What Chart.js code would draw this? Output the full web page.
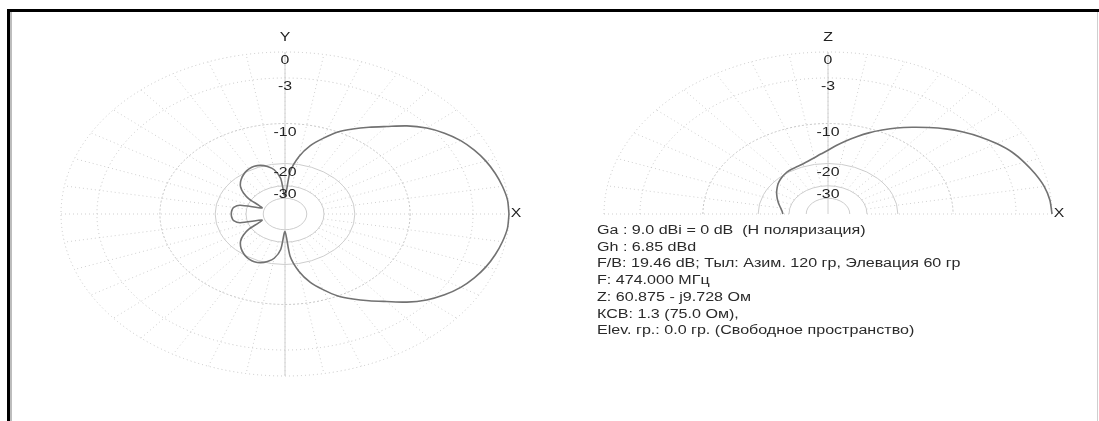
<!DOCTYPE html>
<html>
<head>
<meta charset="utf-8">
<title>Диаграмма направленности</title>
<script src="https://cdn.jsdelivr.net/npm/chart.js@4.4.1/dist/chart.umd.min.js"></script>
<style>
  body { margin: 0; background: #fff; }
  #page { position: relative; width: 1099px; height: 421px; overflow: hidden; background: #fff; }
  .edge { position: absolute; }
  #edgeTop { left: 7px; top: 9px; width: 1092px; height: 3px; background: #000; }
  #edgeLeft { left: 7px; top: 9px; width: 3px; height: 412px; background: #000; }
  #edgeLeft2 { left: 10px; top: 12px; width: 2px; height: 409px; background: #bdbdbd; }
  #edgeRight { left: 1097px; top: 12px; width: 1px; height: 409px; background: #cfcfcf; }
  canvas { position: absolute; }
  #azChart { left: 14px; top: 14px; }
  #elChart { left: 565px; top: 14px; }
  #info {
    position: absolute; left: 597px; top: 222px;
    font: 12px "Liberation Sans", Arial, sans-serif; line-height: 16.7px; color: #2a2a2a;
    transform: scaleX(1.34); transform-origin: 0 0; white-space: pre;
  }
</style>
</head>
<body>
<div id="page">
  <div class="edge" id="edgeTop"></div>
  <div class="edge" id="edgeLeft"></div>
  <div class="edge" id="edgeLeft2"></div>
  <div class="edge" id="edgeRight"></div>
  <canvas id="azChart" width="540" height="392"></canvas>
  <canvas id="elChart" width="525" height="392"></canvas>
  <div id="info"></div>
</div>
<script>
// angles in degrees, 0 = along X
var angles = [0, 5, 10, 15, 20, 25, 30, 35, 40, 45, 50, 55, 60, 65, 70, 75, 80, 85, 90,
              95, 100, 105, 110, 115, 120, 125, 130, 135, 140, 145, 150, 155, 160, 165, 170, 175, 180];

// horizontal plane (X-Y), dB relative to max; symmetric about X
var azimuthDb = [0, -0.05, -0.25, -0.5, -0.8, -1.2, -1.7, -2.4, -3.3, -4.5, -6.0, -7.3, -8.6, -10.0, -12.0, -14.2, -17.5, -23, -38,
                 -26, -22, -20.5, -19.6, -19.3, -19.5, -20, -20.8, -21.8, -23.2, -25.5, -29, -35, -38, -27, -25, -24.6, -24.5];

// vertical plane (X-Z), upper half only
var elevationDb = [0, -0.1, -0.35, -0.75, -1.2, -1.7, -2.4, -3.2, -4.1, -5.1, -6.2, -7.3, -8.4, -9.6, -10.8, -12.1, -13.4, -14.7, -16,
                   -17, -17.9, -18.6, -19.1, -19.4, -19.5, -19.7, -20.1, -20.6, -21.2, -22, -22.8, -23.7, -24.6, -25.5, -26.4, -27.1, -27.5];

var ringDb = [0, -3, -10, -20, -30, -40];
var ringLabels = ['0', '-3', '-10', '-20', '-30'];

var infoLines = [
  'Ga : 9.0 dBi = 0 dB  (H поляризация)',
  'Gh : 6.85 dBd',
  'F/B: 19.46 dB; Тыл: Азим. 120 гр, Элевация 60 гр',
  'F: 474.000 МГц',
  'Z: 60.875 - j9.728 Ом',
  'КСВ: 1.3 (75.0 Ом),',
  'Elev. гр.: 0.0 гр. (Свободное пространство)'
];

// pixels per unit radius, horizontally and vertically
var SX = 224, SY = 162;
var TEXT_STRETCH = 1.32;

// ARRL log-periodic radius
function arrlRadius(db) {
  return Math.pow(0.89, -db / 2);
}

function toPoint(deg, db) {
  var r = arrlRadius(db), t = deg * Math.PI / 180;
  return { x: r * Math.cos(t), y: r * Math.sin(t) };
}

function stretchedText(ctx, text, x, y) {
  ctx.save();
  ctx.translate(x, y);
  ctx.scale(TEXT_STRETCH, 1);
  ctx.fillText(text, 0, 0);
  ctx.restore();
}

var polarGrid = {
  id: 'polarGrid',
  beforeDatasetsDraw: function(chart, args, opts) {
    var ctx = chart.ctx, sx = chart.scales.x, sy = chart.scales.y;
    var cx = sx.getPixelForValue(0), cy = sy.getPixelForValue(0);
    var maxA = opts.half ? 180 : 350;
    ctx.save();
    ctx.lineWidth = 1;

    // spokes every 10 degrees
    ctx.strokeStyle = '#cfcfcf';
    ctx.setLineDash([1, 3]);
    var r0 = arrlRadius(-30);
    for (var a = 0; a <= maxA; a += 10) {
      var t = a * Math.PI / 180;
      ctx.beginPath();
      ctx.moveTo(sx.getPixelForValue(r0 * Math.cos(t)), sy.getPixelForValue(r0 * Math.sin(t)));
      ctx.lineTo(sx.getPixelForValue(Math.cos(t)), sy.getPixelForValue(Math.sin(t)));
      ctx.stroke();
    }

    // rings
    ringDb.forEach(function(db) {
      var r = arrlRadius(db);
      var rx = sx.getPixelForValue(r) - cx, ry = cy - sy.getPixelForValue(r);
      if (db > -10) { ctx.setLineDash([1, 3]); ctx.strokeStyle = '#c4c4c4'; }
      else if (db == -10) { ctx.setLineDash([2, 2]); ctx.strokeStyle = '#c4c4c4'; }
      else { ctx.setLineDash([]); ctx.strokeStyle = '#cdcdcd'; }
      ctx.beginPath();
      if (opts.half) ctx.ellipse(cx, cy, rx, ry, 0, Math.PI, 2 * Math.PI);
      else ctx.ellipse(cx, cy, rx, ry, 0, 0, 2 * Math.PI);
      ctx.stroke();
    });

    // vertical axis
    ctx.setLineDash([]);
    ctx.strokeStyle = '#d0d0d0';
    ctx.beginPath();
    ctx.moveTo(cx, sy.getPixelForValue(1));
    ctx.lineTo(cx, sy.getPixelForValue(opts.half ? 0 : -1));
    ctx.stroke();
    ctx.restore();
  },
  afterDatasetsDraw: function(chart, args, opts) {
    var ctx = chart.ctx, sx = chart.scales.x, sy = chart.scales.y;
    var cx = sx.getPixelForValue(0), cy = sy.getPixelForValue(0);
    ctx.save();
    ctx.fillStyle = '#222';
    ctx.font = '12px "Liberation Sans", Arial, sans-serif';
    ctx.textAlign = 'center';
    ctx.textBaseline = 'middle';
    ringLabels.forEach(function(lbl, i) {
      stretchedText(ctx, lbl, cx, sy.getPixelForValue(arrlRadius(ringDb[i])) + 9);
    });
    stretchedText(ctx, opts.upAxis, cx, sy.getPixelForValue(1) - 14);
    stretchedText(ctx, 'X', sx.getPixelForValue(1) + 7, cy);
    ctx.restore();
  }
};

function makePolar(canvasId, left, top, cxPage, cyPage, points, half, upAxis) {
  var canvas = document.getElementById(canvasId);
  var w = canvas.width, h = canvas.height;
  var cx = cxPage - left, cy = cyPage - top;
  return new Chart(canvas.getContext('2d'), {
    type: 'scatter',
    data: {
      datasets: [{
        data: points,
        showLine: true,
        borderColor: '#727272',
        borderWidth: 1.6,
        pointRadius: 0,
        tension: 0.25,
        fill: false
      }]
    },
    options: {
      responsive: false,
      animation: false,
      events: [],
      layout: { padding: 0 },
      scales: {
        x: { type: 'linear', display: false, min: -cx / SX, max: (w - cx) / SX },
        y: { type: 'linear', display: false, min: -(h - cy) / SY, max: cy / SY }
      },
      plugins: {
        legend: { display: false },
        tooltip: { enabled: false },
        polarGrid: { half: half, upAxis: upAxis }
      }
    },
    plugins: [polarGrid]
  });
}

// full azimuth curve: upper half as read, lower half mirrored
var azPoints = [];
for (var i = 0; i < angles.length; i++) azPoints.push(toPoint(angles[i], azimuthDb[i]));
for (var j = angles.length - 2; j >= 0; j--) azPoints.push(toPoint(360 - angles[j], azimuthDb[j]));

var elPoints = [];
for (var k = 0; k < angles.length; k++) elPoints.push(toPoint(angles[k], elevationDb[k]));

makePolar('azChart', 14, 14, 285, 214, azPoints, false, 'Y');
makePolar('elChart', 565, 14, 828, 214, elPoints, true, 'Z');

document.getElementById('info').textContent = infoLines.join('\n');
</script>
</body>
</html>
